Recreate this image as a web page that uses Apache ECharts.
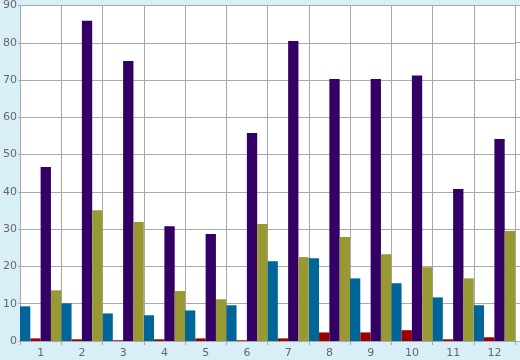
<!DOCTYPE html>
<html><head><meta charset="utf-8">
<script src="https://cdn.jsdelivr.net/npm/echarts@6/dist/echarts.min.js"></script>
<style>html,body{margin:0;padding:0;background:#d9eff7;}#c{width:520px;height:360px;}</style>
</head><body><div id="c"></div>
<script>
var categories = ['1','2','3','4','5','6','7','8','9','10','11','12'];
var seriesBlue   = [9.3, 10.1, 7.4, 6.9, 8.2, 9.6, 21.4, 22.2, 16.8, 15.5, 11.7, 9.6];
var seriesRed    = [0.7, 0.45, 0.2, 0.45, 0.7, 0.2, 0.7, 2.3, 2.3, 2.9, 0.45, 1.0];
var seriesPurple = [46.7, 85.9, 75.1, 30.8, 28.7, 55.8, 80.5, 70.3, 70.3, 71.2, 40.8, 54.2];
var seriesOlive  = [13.6, 35.1, 31.9, 13.4, 11.2, 31.4, 22.5, 27.9, 23.3, 19.8, 16.8, 29.5];
var yTicks = {min: 0, max: 90, interval: 10};

var chart = echarts.init(document.getElementById('c'), null, {renderer: 'canvas'});
var font = 'DejaVu Sans';
var gridColor = '#a9a9a9';
function bar(name, data, color) {
  return {name: name, type: 'bar', data: data, barGap: '0%', barCategoryGap: '0%',
    itemStyle: {color: color}, silent: true, animation: false};
}
chart.setOption({
  backgroundColor: '#d9eff7',
  animation: false,
  grid: [
    {left: 20, right: 5, top: 5, bottom: 19, show: true, backgroundColor: '#ffffff', borderWidth: 0},
    {left: 515, right: 0, top: 5, bottom: 19, show: true, backgroundColor: '#ffffff', borderWidth: 0}
  ],
  xAxis: [
    {type: 'category', data: categories, gridIndex: 0,
      axisLine: {show: true, lineStyle: {color: gridColor, width: 1}},
      axisTick: {show: true, length: 4, lineStyle: {color: gridColor}},
      axisLabel: {color: '#666666', fontFamily: font, fontSize: 11, margin: 7},
      splitLine: {show: true, lineStyle: {color: gridColor, width: 1}}},
    {type: 'value', gridIndex: 1, min: 0, max: 1, show: false}
  ],
  yAxis: [
    {type: 'value', gridIndex: 0, min: yTicks.min, max: yTicks.max, interval: yTicks.interval,
      axisLine: {show: true, lineStyle: {color: gridColor, width: 1}},
      axisTick: {show: true, length: 2, lineStyle: {color: gridColor}},
      axisLabel: {color: '#666666', fontFamily: font, fontSize: 11, margin: 3},
      splitLine: {show: true, lineStyle: {color: gridColor, width: 1}}},
    {type: 'value', gridIndex: 1, min: yTicks.min, max: yTicks.max, interval: yTicks.interval,
      axisLine: {show: false}, axisTick: {show: false}, axisLabel: {show: false},
      splitLine: {show: true, lineStyle: {color: gridColor, width: 1}}}
  ],
  series: [
    bar('A', seriesBlue, '#006699'),
    bar('B', seriesRed, '#990000'),
    bar('C', seriesPurple, '#330066'),
    bar('D', seriesOlive, '#999933')
  ]
});
</script></body></html>
